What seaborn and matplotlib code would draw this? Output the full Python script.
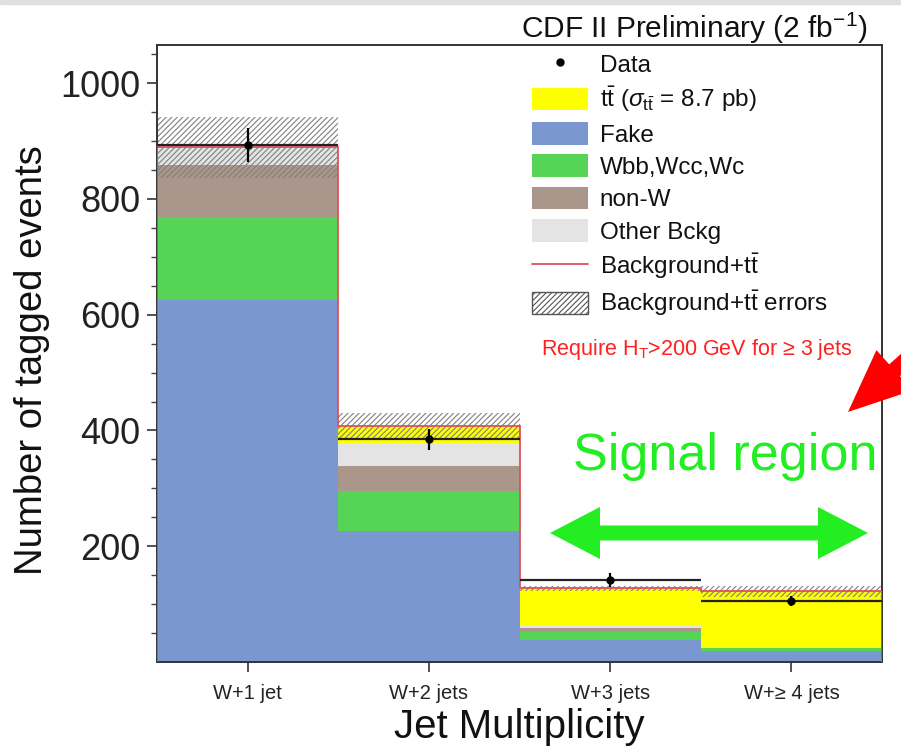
import matplotlib
matplotlib.use("Agg")
import matplotlib.pyplot as plt
import seaborn as sns
import pandas as pd
import numpy as np
from matplotlib.lines import Line2D
from matplotlib.patches import Patch, Rectangle

# ---------------- data ----------------
categories = ["W+1 jet", "W+2 jets", "W+3 jets", "W+\u2265 4 jets"]
jet_bins = [1, 2, 3, 4]
fake = [626, 227, 38, 19]
wbb = [143, 68, 13, 5]
nonw = [90, 43, 7, 1]
other = [30, 40, 6, 1]
ttbar = [0, 29, 63, 96]
bkg_err = [53, 24, 4, 10]
data = [893, 385, 141, 105]
data_err = [30, 18, 12, 9]
y_ticks = [200, 400, 600, 800, 1000]

# stacking: first hue level ends on top in seaborn's stack
process_order = ["ttbar", "Other Bckg", "non-W", "Wbb,Wcc,Wc", "Fake"]
process_values = {"ttbar": ttbar, "Other Bckg": other, "non-W": nonw,
                  "Wbb,Wcc,Wc": wbb, "Fake": fake}
palette = {"ttbar": "#ffff00", "Other Bckg": "#e4e4e4", "non-W": "#aa968a",
           "Wbb,Wcc,Wc": "#55d455", "Fake": "#7a97cf"}

rows = []
for p in process_order:
    for b, v in zip(jet_bins, process_values[p]):
        rows.append({"jets": b, "events": v, "process": p})
df = pd.DataFrame(rows)

total = np.sum([fake, wbb, nonw, other, ttbar], axis=0)

# ---------------- style ----------------
sns.set_style("ticks")
plt.rcParams["font.family"] = ["Liberation Sans", "DejaVu Sans"]
plt.rcParams["mathtext.fontset"] = "custom"
plt.rcParams["mathtext.rm"] = "Liberation Sans"
plt.rcParams["mathtext.it"] = "Liberation Sans:italic"
plt.rcParams["mathtext.sf"] = "Liberation Sans"
plt.rcParams["hatch.linewidth"] = 0.8

fig = plt.figure(figsize=(9.01, 7.5), dpi=100)
ax = fig.add_axes([157 / 901, 88 / 750, (882 - 157) / 901, (662 - 45) / 750])

fig.patches.append(Rectangle((0, 1 - 4 / 750), 1, 4 / 750, transform=fig.transFigure,
                             color="#e0e0e0", zorder=0))

sns.histplot(data=df, x="jets", weights="events", hue="process",
             hue_order=process_order, palette=palette, multiple="stack",
             discrete=True, shrink=1.0, alpha=1.0, linewidth=0,
             legend=False, ax=ax, zorder=1)

edges = np.arange(0.5, 5.0, 1.0)
# error band (hatched)
ax.bar(jet_bins, 2 * np.array(bkg_err), bottom=total - np.array(bkg_err), width=1.0,
       facecolor="none", edgecolor="#808080", hatch="//////", linewidth=0, zorder=2)
# total background line
ax.stairs(total, edges, color="#e0505a", linewidth=1.3, zorder=3)
# data
ax.hlines(data, edges[:-1], edges[1:], colors="#222222", linewidth=1.6, zorder=4)
ax.errorbar(jet_bins, data, yerr=data_err, fmt="o", color="black", markersize=5,
            elinewidth=1.6, capsize=0, zorder=5)

ax.set_xlim(0.5, 4.5)
ax.set_ylim(0, 1066)
ax.set_xticks(jet_bins)
ax.set_xticklabels(categories)
ax.set_yticks(y_ticks)
ax.set_yticks(np.arange(50, 1066, 50), minor=True)

for s in ax.spines.values():
    s.set_color("#333333")
    s.set_linewidth(1.4)
    s.set_visible(True)

ax.tick_params(axis="y", which="major", direction="out", length=7, width=1.1,
               labelsize=26, pad=5, colors="#222222")
ax.tick_params(axis="y", which="minor", direction="out", length=4, width=1.0,
               colors="#444444")
ax.tick_params(axis="x", which="major", direction="out", length=7, width=1.1,
               labelsize=14.5, pad=9, colors="#222222")

ax.set_ylabel("Number of tagged events", fontsize=27.5, va="center", color="#111111")
ax.yaxis.set_label_coords(-0.172, 0.49)
ax.set_xlabel("Jet Multiplicity", fontsize=29, va="center", color="#111111")
ax.xaxis.set_label_coords(0.499, -0.105)

# title
fig.text(868 / 901, 1 - 38 / 750, r"CDF II Preliminary (2 fb$^{\mathregular{-1}}$)",
         ha="right", va="baseline", fontsize=21.5, color="#111111")

# legend
handles = [
    Line2D([0], [0], marker="o", color="black", linestyle="none", markersize=5),
    Patch(facecolor=palette["ttbar"], edgecolor="none"),
    Patch(facecolor=palette["Fake"], edgecolor="none"),
    Patch(facecolor=palette["Wbb,Wcc,Wc"], edgecolor="none"),
    Patch(facecolor=palette["non-W"], edgecolor="none"),
    Patch(facecolor=palette["Other Bckg"], edgecolor="none"),
    Line2D([0], [0], color="#e0505a", linewidth=1.3),
    Patch(facecolor="white", edgecolor="#555555", hatch="//////", linewidth=1.0),
]
labels = [
    "Data",
    r"t$\bar{\mathrm{t}}$ ($\sigma_{\mathrm{t\bar{t}}}$ = 8.7 pb)",
    "Fake",
    "Wbb,Wcc,Wc",
    "non-W",
    "Other Bckg",
    r"Background+t$\bar{\mathrm{t}}$",
    r"Background+t$\bar{\mathrm{t}}$ errors",
]
leg = ax.legend(handles, labels, loc="upper left", bbox_to_anchor=(0.517, 0.988),
                frameon=False, fontsize=17.5, handlelength=2.3, handleheight=1.05,
                labelspacing=0.32, handletextpad=0.5, borderpad=0, borderaxespad=0)
for t in leg.get_texts():
    t.set_color("#111111")

ax.text((541 - 157) / 725, (662 - 355) / 617,
        "Require H$_{\\mathrm{T}}$>200 GeV for \u2265 3 jets",
        transform=ax.transAxes, ha="left", va="baseline", fontsize=15.5, color="#ff2020")

# signal region annotation
green = "#22ee22"
ax.text((573 - 157) / 725, (662 - 470) / 617, "Signal region", transform=ax.transAxes,
        ha="left", va="baseline", fontsize=37.5, color=green, clip_on=False, zorder=6)
xl = 0.5 + (550 - 157) / 181.25
xr = 0.5 + (868 - 157) / 181.25
xm = 0.5 * (xl + xr)
yarr = (662 - 533) / 0.57875
for xend in (xl, xr):
    ax.annotate("", xy=(xend, yarr), xytext=(xm, yarr),
                arrowprops=dict(arrowstyle="simple,head_length=1.2,head_width=1.25,tail_width=0.36",
                                color=green, linewidth=0, shrinkA=0, shrinkB=0,
                                mutation_scale=30), zorder=6)

# red arrow at the right edge
ax.annotate("", xy=(848, 750 - 412), xytext=(945, 750 - 325), xycoords="figure pixels",
            textcoords="figure pixels",
            arrowprops=dict(arrowstyle="simple,head_length=1.5,head_width=1.3,tail_width=0.38",
                            color="#ff0000", linewidth=0, shrinkA=0, shrinkB=0,
                            mutation_scale=30), annotation_clip=False, zorder=7)

fig.savefig("out.png", dpi=100)
